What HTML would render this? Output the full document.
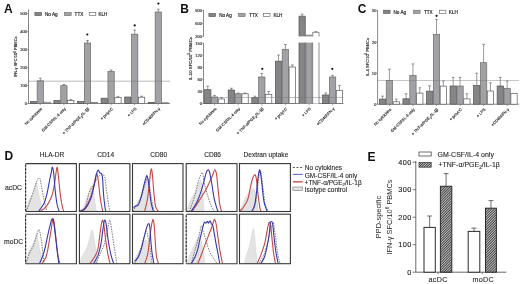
<!DOCTYPE html>
<html><head><meta charset="utf-8"><style>
html,body{margin:0;padding:0;background:#fff;}
body{width:520px;height:284px;overflow:hidden;}
svg{display:block;font-family:"Liberation Sans", sans-serif;will-change:transform;}
</style></head><body>
<svg width="520" height="284" viewBox="0 0 520 284">
<rect width="520" height="284" fill="#fff"/>
<text x="4" y="12.7" font-size="12" text-anchor="start" fill="#111" font-weight="bold" >A</text>
<line x1="28.5" y1="9.5" x2="28.5" y2="103.5" stroke="#6a6a6a" stroke-width="0.8" />
<line x1="28.5" y1="103.5" x2="170" y2="103.5" stroke="#6a6a6a" stroke-width="0.8" />
<line x1="27.1" y1="13.5" x2="28.5" y2="13.5" stroke="#6a6a6a" stroke-width="0.6" />
<text x="27.2" y="15" font-size="4.2" text-anchor="end" fill="#444" font-weight="normal"  stroke="#444" stroke-width="0.18">500</text>
<line x1="27.1" y1="31.5" x2="28.5" y2="31.5" stroke="#6a6a6a" stroke-width="0.6" />
<text x="27.2" y="33" font-size="4.2" text-anchor="end" fill="#444" font-weight="normal"  stroke="#444" stroke-width="0.18">400</text>
<line x1="27.1" y1="49.5" x2="28.5" y2="49.5" stroke="#6a6a6a" stroke-width="0.6" />
<text x="27.2" y="51" font-size="4.2" text-anchor="end" fill="#444" font-weight="normal"  stroke="#444" stroke-width="0.18">300</text>
<line x1="27.1" y1="67.5" x2="28.5" y2="67.5" stroke="#6a6a6a" stroke-width="0.6" />
<text x="27.2" y="69" font-size="4.2" text-anchor="end" fill="#444" font-weight="normal"  stroke="#444" stroke-width="0.18">200</text>
<line x1="27.1" y1="85.5" x2="28.5" y2="85.5" stroke="#6a6a6a" stroke-width="0.6" />
<text x="27.2" y="87" font-size="4.2" text-anchor="end" fill="#444" font-weight="normal"  stroke="#444" stroke-width="0.18">100</text>
<line x1="27.1" y1="103.5" x2="28.5" y2="103.5" stroke="#6a6a6a" stroke-width="0.6" />
<text x="27.2" y="105" font-size="4.2" text-anchor="end" fill="#444" font-weight="normal"  stroke="#444" stroke-width="0.18">0</text>
<line x1="40.3" y1="103.5" x2="40.3" y2="105.3" stroke="#6a6a6a" stroke-width="0.6" />
<line x1="63.9" y1="103.5" x2="63.9" y2="105.3" stroke="#6a6a6a" stroke-width="0.6" />
<line x1="87.5" y1="103.5" x2="87.5" y2="105.3" stroke="#6a6a6a" stroke-width="0.6" />
<line x1="111.1" y1="103.5" x2="111.1" y2="105.3" stroke="#6a6a6a" stroke-width="0.6" />
<line x1="134.7" y1="103.5" x2="134.7" y2="105.3" stroke="#6a6a6a" stroke-width="0.6" />
<line x1="158.3" y1="103.5" x2="158.3" y2="105.3" stroke="#6a6a6a" stroke-width="0.6" />
<rect x="30.3" y="101.6" width="6.3" height="1.9" fill="#858587" stroke="#505050" stroke-width="0.7" />
<rect x="37.15" y="80.8" width="6.3" height="22.7" fill="#a2a2a6" stroke="#6a6a6a" stroke-width="0.7" />
<line x1="40.3" y1="80.8" x2="40.3" y2="78.2" stroke="#555" stroke-width="0.6" />
<line x1="38.9" y1="78.2" x2="41.7" y2="78.2" stroke="#555" stroke-width="0.6" />
<rect x="44" y="102.2" width="6.3" height="1.3" fill="#ffffff" stroke="#5a5a5a" stroke-width="0.7" />
<rect x="53.9" y="100.6" width="6.3" height="2.9" fill="#858587" stroke="#505050" stroke-width="0.7" />
<rect x="60.75" y="85.7" width="6.3" height="17.8" fill="#a2a2a6" stroke="#6a6a6a" stroke-width="0.7" />
<line x1="63.9" y1="85.7" x2="63.9" y2="84.5" stroke="#555" stroke-width="0.6" />
<line x1="62.5" y1="84.5" x2="65.3" y2="84.5" stroke="#555" stroke-width="0.6" />
<rect x="67.6" y="100.6" width="6.3" height="2.9" fill="#ffffff" stroke="#5a5a5a" stroke-width="0.7" />
<line x1="70.75" y1="100.6" x2="70.75" y2="99.6" stroke="#555" stroke-width="0.6" />
<line x1="69.35" y1="99.6" x2="72.15" y2="99.6" stroke="#555" stroke-width="0.6" />
<rect x="77.5" y="101.6" width="6.3" height="1.9" fill="#858587" stroke="#505050" stroke-width="0.7" />
<rect x="84.35" y="43" width="6.3" height="60.5" fill="#a2a2a6" stroke="#6a6a6a" stroke-width="0.7" />
<line x1="87.5" y1="43" x2="87.5" y2="40.5" stroke="#555" stroke-width="0.6" />
<line x1="86.1" y1="40.5" x2="88.9" y2="40.5" stroke="#555" stroke-width="0.6" />
<rect x="91.2" y="102.6" width="6.3" height="0.9" fill="#ffffff" stroke="#5a5a5a" stroke-width="0.7" />
<rect x="101.1" y="98.2" width="6.3" height="5.3" fill="#858587" stroke="#505050" stroke-width="0.7" />
<rect x="107.95" y="71.5" width="6.3" height="32" fill="#a2a2a6" stroke="#6a6a6a" stroke-width="0.7" />
<line x1="111.1" y1="71.5" x2="111.1" y2="70" stroke="#555" stroke-width="0.6" />
<line x1="109.7" y1="70" x2="112.5" y2="70" stroke="#555" stroke-width="0.6" />
<rect x="114.8" y="97.4" width="6.3" height="6.1" fill="#ffffff" stroke="#5a5a5a" stroke-width="0.7" />
<line x1="117.95" y1="97.4" x2="117.95" y2="96.4" stroke="#555" stroke-width="0.6" />
<line x1="116.55" y1="96.4" x2="119.35" y2="96.4" stroke="#555" stroke-width="0.6" />
<rect x="124.7" y="97" width="6.3" height="6.5" fill="#858587" stroke="#505050" stroke-width="0.7" />
<rect x="131.55" y="34.2" width="6.3" height="69.3" fill="#a2a2a6" stroke="#6a6a6a" stroke-width="0.7" />
<line x1="134.7" y1="34.2" x2="134.7" y2="30" stroke="#555" stroke-width="0.6" />
<line x1="133.3" y1="30" x2="136.1" y2="30" stroke="#555" stroke-width="0.6" />
<rect x="138.4" y="97.2" width="6.3" height="6.3" fill="#ffffff" stroke="#5a5a5a" stroke-width="0.7" />
<line x1="141.55" y1="97.2" x2="141.55" y2="96.2" stroke="#555" stroke-width="0.6" />
<line x1="140.15" y1="96.2" x2="142.95" y2="96.2" stroke="#555" stroke-width="0.6" />
<rect x="148.3" y="102.4" width="6.3" height="1.1" fill="#858587" stroke="#505050" stroke-width="0.7" />
<rect x="155.15" y="12" width="6.3" height="91.5" fill="#a2a2a6" stroke="#6a6a6a" stroke-width="0.7" />
<line x1="158.3" y1="12" x2="158.3" y2="9.2" stroke="#555" stroke-width="0.6" />
<line x1="156.9" y1="9.2" x2="159.7" y2="9.2" stroke="#555" stroke-width="0.6" />
<rect x="162" y="102.8" width="6.3" height="0.7" fill="#ffffff" stroke="#5a5a5a" stroke-width="0.7" />
<line x1="28.5" y1="81.2" x2="170" y2="81.2" stroke="#777" stroke-width="0.6" opacity="0.85"/>
<rect x="34.9" y="12.4" width="6.6" height="3.2" fill="#858587" stroke="#505050" stroke-width="0.6" />
<text x="45" y="15.7" font-size="4.6" text-anchor="start" fill="#2a2a2a" font-weight="normal"  stroke="#2a2a2a" stroke-width="0.18">No Ag</text>
<rect x="64.6" y="12.4" width="6.6" height="3.2" fill="#a2a2a6" stroke="#6a6a6a" stroke-width="0.6" />
<text x="74.6" y="15.7" font-size="4.6" text-anchor="start" fill="#2a2a2a" font-weight="normal"  stroke="#2a2a2a" stroke-width="0.18">TTX</text>
<rect x="89.2" y="12.4" width="6.6" height="3.2" fill="#ffffff" stroke="#5a5a5a" stroke-width="0.6" />
<text x="98.5" y="15.7" font-size="4.6" text-anchor="start" fill="#2a2a2a" font-weight="normal"  stroke="#2a2a2a" stroke-width="0.18">KLH</text>
<circle cx="87.3" cy="34.5" r="1.1" fill="#111"/>
<circle cx="134.7" cy="25.4" r="1.1" fill="#111"/>
<circle cx="158.4" cy="3.6" r="1.1" fill="#111"/>
<text transform="translate(17.4,56.8) rotate(-90)" font-size="4.0" text-anchor="middle" fill="#2a2a2a" stroke="#2a2a2a" stroke-width="0.15">IFN-&#947; SFC/10<tspan font-size="3" dy="-1.5">5</tspan><tspan dy="1.5"> PBMCs</tspan></text>
<text transform="translate(42.5,109.1) rotate(-45)" font-size="4.0" text-anchor="end" fill="#2a2a2a" stroke="#2a2a2a" stroke-width="0.15">No cytokines</text>
<text transform="translate(66.1,109.1) rotate(-45)" font-size="4.0" text-anchor="end" fill="#2a2a2a" stroke="#2a2a2a" stroke-width="0.15">GM-CSF/IL-4 only</text>
<text transform="translate(89.7,109.1) rotate(-45)" font-size="4.0" text-anchor="end" fill="#2a2a2a" stroke="#2a2a2a" stroke-width="0.15">+ TNF-&#945;/PGE<tspan font-size="3" dy="1">2</tspan><tspan dy="-1">/IL-1&#946;</tspan></text>
<text transform="translate(113.3,109.1) rotate(-45)" font-size="4.0" text-anchor="end" fill="#2a2a2a" stroke="#2a2a2a" stroke-width="0.15">+ polyI:C</text>
<text transform="translate(136.9,109.1) rotate(-45)" font-size="4.0" text-anchor="end" fill="#2a2a2a" stroke="#2a2a2a" stroke-width="0.15">+ LPS</text>
<text transform="translate(160.5,109.1) rotate(-45)" font-size="4.0" text-anchor="end" fill="#2a2a2a" stroke="#2a2a2a" stroke-width="0.15">+CD40/IFN-&#947;</text>
<text x="180.3" y="12.7" font-size="12" text-anchor="start" fill="#111" font-weight="bold" >B</text>
<line x1="203.5" y1="10" x2="203.5" y2="36.6" stroke="#6a6a6a" stroke-width="0.8" />
<line x1="203.5" y1="43" x2="203.5" y2="103.5" stroke="#6a6a6a" stroke-width="0.8" />
<line x1="203.5" y1="103.5" x2="343.5" y2="103.5" stroke="#6a6a6a" stroke-width="0.8" />
<line x1="202.1" y1="10.5" x2="203.5" y2="10.5" stroke="#6a6a6a" stroke-width="0.6" />
<text x="202.2" y="12" font-size="4.2" text-anchor="end" fill="#444" font-weight="normal"  stroke="#444" stroke-width="0.18">900</text>
<line x1="202.1" y1="23.5" x2="203.5" y2="23.5" stroke="#6a6a6a" stroke-width="0.6" />
<text x="202.2" y="25" font-size="4.2" text-anchor="end" fill="#444" font-weight="normal"  stroke="#444" stroke-width="0.18">600</text>
<line x1="202.1" y1="36.5" x2="203.5" y2="36.5" stroke="#6a6a6a" stroke-width="0.6" />
<text x="202.2" y="38" font-size="4.2" text-anchor="end" fill="#444" font-weight="normal"  stroke="#444" stroke-width="0.18">300</text>
<line x1="202.1" y1="43" x2="203.5" y2="43" stroke="#6a6a6a" stroke-width="0.6" />
<text x="202.2" y="44.5" font-size="4.2" text-anchor="end" fill="#444" font-weight="normal"  stroke="#444" stroke-width="0.18">150</text>
<line x1="202.1" y1="55.1" x2="203.5" y2="55.1" stroke="#6a6a6a" stroke-width="0.6" />
<text x="202.2" y="56.6" font-size="4.2" text-anchor="end" fill="#444" font-weight="normal"  stroke="#444" stroke-width="0.18">120</text>
<line x1="202.1" y1="67.2" x2="203.5" y2="67.2" stroke="#6a6a6a" stroke-width="0.6" />
<text x="202.2" y="68.7" font-size="4.2" text-anchor="end" fill="#444" font-weight="normal"  stroke="#444" stroke-width="0.18">90</text>
<line x1="202.1" y1="79.3" x2="203.5" y2="79.3" stroke="#6a6a6a" stroke-width="0.6" />
<text x="202.2" y="80.8" font-size="4.2" text-anchor="end" fill="#444" font-weight="normal"  stroke="#444" stroke-width="0.18">60</text>
<line x1="202.1" y1="91.4" x2="203.5" y2="91.4" stroke="#6a6a6a" stroke-width="0.6" />
<text x="202.2" y="92.9" font-size="4.2" text-anchor="end" fill="#444" font-weight="normal"  stroke="#444" stroke-width="0.18">30</text>
<line x1="202.1" y1="103.5" x2="203.5" y2="103.5" stroke="#6a6a6a" stroke-width="0.6" />
<text x="202.2" y="105" font-size="4.2" text-anchor="end" fill="#444" font-weight="normal"  stroke="#444" stroke-width="0.18">0</text>
<line x1="214.6" y1="103.5" x2="214.6" y2="105.3" stroke="#6a6a6a" stroke-width="0.6" />
<line x1="238.2" y1="103.5" x2="238.2" y2="105.3" stroke="#6a6a6a" stroke-width="0.6" />
<line x1="261.8" y1="103.5" x2="261.8" y2="105.3" stroke="#6a6a6a" stroke-width="0.6" />
<line x1="285.4" y1="103.5" x2="285.4" y2="105.3" stroke="#6a6a6a" stroke-width="0.6" />
<line x1="309" y1="103.5" x2="309" y2="105.3" stroke="#6a6a6a" stroke-width="0.6" />
<line x1="332.6" y1="103.5" x2="332.6" y2="105.3" stroke="#6a6a6a" stroke-width="0.6" />
<rect x="204.6" y="89.7" width="6.3" height="13.8" fill="#858587" stroke="#505050" stroke-width="0.7" />
<line x1="207.75" y1="89.7" x2="207.75" y2="86.2" stroke="#555" stroke-width="0.6" />
<line x1="206.35" y1="86.2" x2="209.15" y2="86.2" stroke="#555" stroke-width="0.6" />
<rect x="211.45" y="97" width="6.3" height="6.5" fill="#a2a2a6" stroke="#6a6a6a" stroke-width="0.7" />
<line x1="214.6" y1="97" x2="214.6" y2="95.4" stroke="#555" stroke-width="0.6" />
<line x1="213.2" y1="95.4" x2="216" y2="95.4" stroke="#555" stroke-width="0.6" />
<rect x="218.3" y="99" width="6.3" height="4.5" fill="#ffffff" stroke="#5a5a5a" stroke-width="0.7" />
<line x1="221.45" y1="99" x2="221.45" y2="97.6" stroke="#555" stroke-width="0.6" />
<line x1="220.05" y1="97.6" x2="222.85" y2="97.6" stroke="#555" stroke-width="0.6" />
<rect x="228.2" y="90" width="6.3" height="13.5" fill="#858587" stroke="#505050" stroke-width="0.7" />
<line x1="231.35" y1="90" x2="231.35" y2="88.2" stroke="#555" stroke-width="0.6" />
<line x1="229.95" y1="88.2" x2="232.75" y2="88.2" stroke="#555" stroke-width="0.6" />
<rect x="235.05" y="93.8" width="6.3" height="9.7" fill="#a2a2a6" stroke="#6a6a6a" stroke-width="0.7" />
<line x1="238.2" y1="93.8" x2="238.2" y2="93" stroke="#555" stroke-width="0.6" />
<line x1="236.8" y1="93" x2="239.6" y2="93" stroke="#555" stroke-width="0.6" />
<rect x="241.9" y="93.8" width="6.3" height="9.7" fill="#ffffff" stroke="#5a5a5a" stroke-width="0.7" />
<line x1="245.05" y1="93.8" x2="245.05" y2="93" stroke="#555" stroke-width="0.6" />
<line x1="243.65" y1="93" x2="246.45" y2="93" stroke="#555" stroke-width="0.6" />
<rect x="251.8" y="97.7" width="6.3" height="5.8" fill="#858587" stroke="#505050" stroke-width="0.7" />
<line x1="254.95" y1="97.7" x2="254.95" y2="96.2" stroke="#555" stroke-width="0.6" />
<line x1="253.55" y1="96.2" x2="256.35" y2="96.2" stroke="#555" stroke-width="0.6" />
<rect x="258.65" y="77" width="6.3" height="26.5" fill="#a2a2a6" stroke="#6a6a6a" stroke-width="0.7" />
<line x1="261.8" y1="77" x2="261.8" y2="73.4" stroke="#555" stroke-width="0.6" />
<line x1="260.4" y1="73.4" x2="263.2" y2="73.4" stroke="#555" stroke-width="0.6" />
<rect x="265.5" y="94.3" width="6.3" height="9.2" fill="#ffffff" stroke="#5a5a5a" stroke-width="0.7" />
<line x1="268.65" y1="94.3" x2="268.65" y2="91.5" stroke="#555" stroke-width="0.6" />
<line x1="267.25" y1="91.5" x2="270.05" y2="91.5" stroke="#555" stroke-width="0.6" />
<rect x="275.4" y="61.2" width="6.3" height="42.3" fill="#858587" stroke="#505050" stroke-width="0.7" />
<line x1="278.55" y1="61.2" x2="278.55" y2="55" stroke="#555" stroke-width="0.6" />
<line x1="277.15" y1="55" x2="279.95" y2="55" stroke="#555" stroke-width="0.6" />
<rect x="282.25" y="49.3" width="6.3" height="54.2" fill="#a2a2a6" stroke="#6a6a6a" stroke-width="0.7" />
<line x1="285.4" y1="49.3" x2="285.4" y2="44.5" stroke="#555" stroke-width="0.6" />
<line x1="284" y1="44.5" x2="286.8" y2="44.5" stroke="#555" stroke-width="0.6" />
<rect x="289.1" y="67" width="6.3" height="36.5" fill="#ffffff" stroke="#5a5a5a" stroke-width="0.7" />
<line x1="292.25" y1="67" x2="292.25" y2="65" stroke="#555" stroke-width="0.6" />
<line x1="290.85" y1="65" x2="293.65" y2="65" stroke="#555" stroke-width="0.6" />
<rect x="322.6" y="95" width="6.3" height="8.5" fill="#858587" stroke="#505050" stroke-width="0.7" />
<line x1="325.75" y1="95" x2="325.75" y2="93" stroke="#555" stroke-width="0.6" />
<line x1="324.35" y1="93" x2="327.15" y2="93" stroke="#555" stroke-width="0.6" />
<rect x="329.45" y="77" width="6.3" height="26.5" fill="#a2a2a6" stroke="#6a6a6a" stroke-width="0.7" />
<line x1="332.6" y1="77" x2="332.6" y2="75.4" stroke="#555" stroke-width="0.6" />
<line x1="331.2" y1="75.4" x2="334" y2="75.4" stroke="#555" stroke-width="0.6" />
<rect x="336.3" y="90.3" width="6.3" height="13.2" fill="#ffffff" stroke="#5a5a5a" stroke-width="0.7" />
<line x1="339.45" y1="90.3" x2="339.45" y2="85.4" stroke="#555" stroke-width="0.6" />
<line x1="338.05" y1="85.4" x2="340.85" y2="85.4" stroke="#555" stroke-width="0.6" />
<line x1="203.5" y1="97.4" x2="343.5" y2="97.4" stroke="#777" stroke-width="0.6" opacity="0.85"/>
<rect x="208.9" y="13.4" width="6.6" height="3.2" fill="#858587" stroke="#505050" stroke-width="0.6" />
<text x="219.2" y="16.7" font-size="4.6" text-anchor="start" fill="#2a2a2a" font-weight="normal"  stroke="#2a2a2a" stroke-width="0.18">No Ag</text>
<rect x="238.5" y="13.4" width="6.6" height="3.2" fill="#a2a2a6" stroke="#6a6a6a" stroke-width="0.6" />
<text x="249.2" y="16.7" font-size="4.6" text-anchor="start" fill="#2a2a2a" font-weight="normal"  stroke="#2a2a2a" stroke-width="0.18">TTX</text>
<rect x="263.4" y="13.4" width="6.6" height="3.2" fill="#ffffff" stroke="#5a5a5a" stroke-width="0.6" />
<text x="273.5" y="16.7" font-size="4.6" text-anchor="start" fill="#2a2a2a" font-weight="normal"  stroke="#2a2a2a" stroke-width="0.18">KLH</text>
<circle cx="262.3" cy="68.8" r="1.1" fill="#111"/>
<circle cx="332.3" cy="68.8" r="1.1" fill="#111"/>
<text transform="translate(191.9,58.6) rotate(-90)" font-size="4.0" text-anchor="middle" fill="#2a2a2a" stroke="#2a2a2a" stroke-width="0.15"><tspan font-size="4.3">IL-10 SFC/10</tspan><tspan font-size="3.2" dy="-1.5">5</tspan><tspan font-size="4.3" dy="1.5"> PBMCs</tspan></text>
<text transform="translate(216.8,109.1) rotate(-45)" font-size="4.0" text-anchor="end" fill="#2a2a2a" stroke="#2a2a2a" stroke-width="0.15">No cytokines</text>
<text transform="translate(240.4,109.1) rotate(-45)" font-size="4.0" text-anchor="end" fill="#2a2a2a" stroke="#2a2a2a" stroke-width="0.15">GM-CSF/IL-4 only</text>
<text transform="translate(264,109.1) rotate(-45)" font-size="4.0" text-anchor="end" fill="#2a2a2a" stroke="#2a2a2a" stroke-width="0.15">+ TNF-&#945;/PGE<tspan font-size="3" dy="1">2</tspan><tspan dy="-1">/IL-1&#946;</tspan></text>
<text transform="translate(287.6,109.1) rotate(-45)" font-size="4.0" text-anchor="end" fill="#2a2a2a" stroke="#2a2a2a" stroke-width="0.15">+ polyI:C</text>
<text transform="translate(311.2,109.1) rotate(-45)" font-size="4.0" text-anchor="end" fill="#2a2a2a" stroke="#2a2a2a" stroke-width="0.15">+ LPS</text>
<text transform="translate(334.8,109.1) rotate(-45)" font-size="4.0" text-anchor="end" fill="#2a2a2a" stroke="#2a2a2a" stroke-width="0.15">+CD40/IFN-&#947;</text>
<rect x="299" y="16.2" width="6.3" height="20.2" fill="#858587"/>
<path d="M299,36.4 L299,16.2 L305.3,16.2 L305.3,36.4" fill="none" stroke="#505050" stroke-width="0.7"/>
<line x1="302.15" y1="16.2" x2="302.15" y2="14.2" stroke="#555" stroke-width="0.6" />
<line x1="300.75" y1="14.2" x2="303.55" y2="14.2" stroke="#555" stroke-width="0.6" />
<rect x="305.85" y="35.2" width="6.3" height="1.2" fill="#a2a2a6"/>
<path d="M305.85,36.4 L305.85,35.2 L312.15,35.2 L312.15,36.4" fill="none" stroke="#6a6a6a" stroke-width="0.7"/>
<rect x="312.7" y="32.3" width="6.3" height="4.1" fill="#ffffff"/>
<path d="M312.7,36.4 L312.7,32.3 L319,32.3 L319,36.4" fill="none" stroke="#5a5a5a" stroke-width="0.7"/>
<line x1="315.85" y1="32.3" x2="315.85" y2="31.6" stroke="#555" stroke-width="0.6" />
<line x1="314.45" y1="31.6" x2="317.25" y2="31.6" stroke="#555" stroke-width="0.6" />
<rect x="299" y="42.6" width="6.3" height="60.9" fill="#858587"/>
<path d="M299,42.6 L299,103.5 M305.3,42.6 L305.3,103.5" fill="none" stroke="#505050" stroke-width="0.7"/>
<rect x="305.85" y="42.6" width="6.3" height="60.9" fill="#a2a2a6"/>
<path d="M305.85,42.6 L305.85,103.5 M312.15,42.6 L312.15,103.5" fill="none" stroke="#6a6a6a" stroke-width="0.7"/>
<rect x="312.7" y="42.6" width="6.3" height="60.9" fill="#ffffff"/>
<path d="M312.7,42.6 L312.7,103.5 M319,42.6 L319,103.5" fill="none" stroke="#5a5a5a" stroke-width="0.7"/>
<line x1="298.5" y1="97.4" x2="319.5" y2="97.4" stroke="#777" stroke-width="0.6" opacity="0.85"/>
<text x="357.8" y="12.7" font-size="12" text-anchor="start" fill="#111" font-weight="bold" >C</text>
<line x1="377.6" y1="10" x2="377.6" y2="104.2" stroke="#6a6a6a" stroke-width="0.8" />
<line x1="377.6" y1="104.2" x2="519" y2="104.2" stroke="#6a6a6a" stroke-width="0.8" />
<line x1="376.2" y1="10.9" x2="377.6" y2="10.9" stroke="#6a6a6a" stroke-width="0.6" />
<text x="376.3" y="12.4" font-size="4.2" text-anchor="end" fill="#444" font-weight="normal"  stroke="#444" stroke-width="0.18">30</text>
<line x1="376.2" y1="42" x2="377.6" y2="42" stroke="#6a6a6a" stroke-width="0.6" />
<text x="376.3" y="43.5" font-size="4.2" text-anchor="end" fill="#444" font-weight="normal"  stroke="#444" stroke-width="0.18">20</text>
<line x1="376.2" y1="73.1" x2="377.6" y2="73.1" stroke="#6a6a6a" stroke-width="0.6" />
<text x="376.3" y="74.6" font-size="4.2" text-anchor="end" fill="#444" font-weight="normal"  stroke="#444" stroke-width="0.18">10</text>
<line x1="376.2" y1="104.2" x2="377.6" y2="104.2" stroke="#6a6a6a" stroke-width="0.6" />
<text x="376.3" y="105.7" font-size="4.2" text-anchor="end" fill="#444" font-weight="normal"  stroke="#444" stroke-width="0.18">0</text>
<line x1="389.4" y1="104.2" x2="389.4" y2="106" stroke="#6a6a6a" stroke-width="0.6" />
<line x1="412.95" y1="104.2" x2="412.95" y2="106" stroke="#6a6a6a" stroke-width="0.6" />
<line x1="436.5" y1="104.2" x2="436.5" y2="106" stroke="#6a6a6a" stroke-width="0.6" />
<line x1="460.05" y1="104.2" x2="460.05" y2="106" stroke="#6a6a6a" stroke-width="0.6" />
<line x1="483.6" y1="104.2" x2="483.6" y2="106" stroke="#6a6a6a" stroke-width="0.6" />
<line x1="507.15" y1="104.2" x2="507.15" y2="106" stroke="#6a6a6a" stroke-width="0.6" />
<rect x="379.4" y="99.1" width="6.3" height="5.1" fill="#858587" stroke="#505050" stroke-width="0.7" />
<line x1="382.55" y1="99.1" x2="382.55" y2="96.1" stroke="#555" stroke-width="0.6" />
<line x1="381.15" y1="96.1" x2="383.95" y2="96.1" stroke="#555" stroke-width="0.6" />
<rect x="386.25" y="80.6" width="6.3" height="23.6" fill="#a2a2a6" stroke="#6a6a6a" stroke-width="0.7" />
<line x1="389.4" y1="80.6" x2="389.4" y2="69.2" stroke="#555" stroke-width="0.6" />
<line x1="388" y1="69.2" x2="390.8" y2="69.2" stroke="#555" stroke-width="0.6" />
<rect x="393.1" y="101.8" width="6.3" height="2.4" fill="#ffffff" stroke="#5a5a5a" stroke-width="0.7" />
<line x1="396.25" y1="101.8" x2="396.25" y2="99.1" stroke="#555" stroke-width="0.6" />
<line x1="394.85" y1="99.1" x2="397.65" y2="99.1" stroke="#555" stroke-width="0.6" />
<rect x="402.95" y="98.8" width="6.3" height="5.4" fill="#858587" stroke="#505050" stroke-width="0.7" />
<line x1="406.1" y1="98.8" x2="406.1" y2="93.8" stroke="#555" stroke-width="0.6" />
<line x1="404.7" y1="93.8" x2="407.5" y2="93.8" stroke="#555" stroke-width="0.6" />
<rect x="409.8" y="75.5" width="6.3" height="28.7" fill="#a2a2a6" stroke="#6a6a6a" stroke-width="0.7" />
<line x1="412.95" y1="75.5" x2="412.95" y2="63.9" stroke="#555" stroke-width="0.6" />
<line x1="411.55" y1="63.9" x2="414.35" y2="63.9" stroke="#555" stroke-width="0.6" />
<rect x="416.65" y="93.1" width="6.3" height="11.1" fill="#ffffff" stroke="#5a5a5a" stroke-width="0.7" />
<line x1="419.8" y1="93.1" x2="419.8" y2="87.8" stroke="#555" stroke-width="0.6" />
<line x1="418.4" y1="87.8" x2="421.2" y2="87.8" stroke="#555" stroke-width="0.6" />
<rect x="426.5" y="91.2" width="6.3" height="13" fill="#858587" stroke="#505050" stroke-width="0.7" />
<line x1="429.65" y1="91.2" x2="429.65" y2="85.8" stroke="#555" stroke-width="0.6" />
<line x1="428.25" y1="85.8" x2="431.05" y2="85.8" stroke="#555" stroke-width="0.6" />
<rect x="433.35" y="34.3" width="6.3" height="69.9" fill="#a2a2a6" stroke="#6a6a6a" stroke-width="0.7" />
<line x1="436.5" y1="34.3" x2="436.5" y2="19.4" stroke="#555" stroke-width="0.6" />
<line x1="435.1" y1="19.4" x2="437.9" y2="19.4" stroke="#555" stroke-width="0.6" />
<rect x="440.2" y="86.1" width="6.3" height="18.1" fill="#ffffff" stroke="#5a5a5a" stroke-width="0.7" />
<line x1="443.35" y1="86.1" x2="443.35" y2="81" stroke="#555" stroke-width="0.6" />
<line x1="441.95" y1="81" x2="444.75" y2="81" stroke="#555" stroke-width="0.6" />
<rect x="450.05" y="86" width="6.3" height="18.2" fill="#858587" stroke="#505050" stroke-width="0.7" />
<line x1="453.2" y1="86" x2="453.2" y2="77.4" stroke="#555" stroke-width="0.6" />
<line x1="451.8" y1="77.4" x2="454.6" y2="77.4" stroke="#555" stroke-width="0.6" />
<rect x="456.9" y="86" width="6.3" height="18.2" fill="#a2a2a6" stroke="#6a6a6a" stroke-width="0.7" />
<line x1="460.05" y1="86" x2="460.05" y2="77.4" stroke="#555" stroke-width="0.6" />
<line x1="458.65" y1="77.4" x2="461.45" y2="77.4" stroke="#555" stroke-width="0.6" />
<rect x="463.75" y="98.9" width="6.3" height="5.3" fill="#ffffff" stroke="#5a5a5a" stroke-width="0.7" />
<line x1="466.9" y1="98.9" x2="466.9" y2="93.8" stroke="#555" stroke-width="0.6" />
<line x1="465.5" y1="93.8" x2="468.3" y2="93.8" stroke="#555" stroke-width="0.6" />
<rect x="473.6" y="85.6" width="6.3" height="18.6" fill="#858587" stroke="#505050" stroke-width="0.7" />
<line x1="476.75" y1="85.6" x2="476.75" y2="73.2" stroke="#555" stroke-width="0.6" />
<line x1="475.35" y1="73.2" x2="478.15" y2="73.2" stroke="#555" stroke-width="0.6" />
<rect x="480.45" y="62.7" width="6.3" height="41.5" fill="#a2a2a6" stroke="#6a6a6a" stroke-width="0.7" />
<line x1="483.6" y1="62.7" x2="483.6" y2="44.3" stroke="#555" stroke-width="0.6" />
<line x1="482.2" y1="44.3" x2="485" y2="44.3" stroke="#555" stroke-width="0.6" />
<rect x="487.3" y="91" width="6.3" height="13.2" fill="#ffffff" stroke="#5a5a5a" stroke-width="0.7" />
<line x1="490.45" y1="91" x2="490.45" y2="82.8" stroke="#555" stroke-width="0.6" />
<line x1="489.05" y1="82.8" x2="491.85" y2="82.8" stroke="#555" stroke-width="0.6" />
<rect x="497.15" y="86" width="6.3" height="18.2" fill="#858587" stroke="#505050" stroke-width="0.7" />
<line x1="500.3" y1="86" x2="500.3" y2="77.4" stroke="#555" stroke-width="0.6" />
<line x1="498.9" y1="77.4" x2="501.7" y2="77.4" stroke="#555" stroke-width="0.6" />
<rect x="504" y="88.3" width="6.3" height="15.9" fill="#a2a2a6" stroke="#6a6a6a" stroke-width="0.7" />
<line x1="507.15" y1="88.3" x2="507.15" y2="81" stroke="#555" stroke-width="0.6" />
<line x1="505.75" y1="81" x2="508.55" y2="81" stroke="#555" stroke-width="0.6" />
<rect x="510.85" y="93.4" width="6.3" height="10.8" fill="#ffffff" stroke="#5a5a5a" stroke-width="0.7" />
<line x1="377.6" y1="80.7" x2="519" y2="80.7" stroke="#777" stroke-width="0.6" opacity="0.85"/>
<rect x="383.5" y="10.2" width="6.6" height="3.2" fill="#858587" stroke="#505050" stroke-width="0.6" />
<text x="393.5" y="13.5" font-size="4.6" text-anchor="start" fill="#2a2a2a" font-weight="normal"  stroke="#2a2a2a" stroke-width="0.18">No Ag</text>
<rect x="413.5" y="10.2" width="6.6" height="3.2" fill="#a2a2a6" stroke="#6a6a6a" stroke-width="0.6" />
<text x="424" y="13.5" font-size="4.6" text-anchor="start" fill="#2a2a2a" font-weight="normal"  stroke="#2a2a2a" stroke-width="0.18">TTX</text>
<rect x="439.3" y="10.2" width="6.6" height="3.2" fill="#ffffff" stroke="#5a5a5a" stroke-width="0.6" />
<text x="448.8" y="13.5" font-size="4.6" text-anchor="start" fill="#2a2a2a" font-weight="normal"  stroke="#2a2a2a" stroke-width="0.18">KLH</text>
<circle cx="436.5" cy="15.8" r="1.1" fill="#111"/>
<text transform="translate(368.6,57) rotate(-90)" font-size="4.0" text-anchor="middle" fill="#2a2a2a" stroke="#2a2a2a" stroke-width="0.15">IL-4 SFC/10<tspan font-size="3" dy="-1.5">5</tspan><tspan dy="1.5"> PBMCs</tspan></text>
<text transform="translate(391.6,109.8) rotate(-45)" font-size="4.0" text-anchor="end" fill="#2a2a2a" stroke="#2a2a2a" stroke-width="0.15">No cytokines</text>
<text transform="translate(415.15,109.8) rotate(-45)" font-size="4.0" text-anchor="end" fill="#2a2a2a" stroke="#2a2a2a" stroke-width="0.15">GM-CSF/IL-4 only</text>
<text transform="translate(438.7,109.8) rotate(-45)" font-size="4.0" text-anchor="end" fill="#2a2a2a" stroke="#2a2a2a" stroke-width="0.15">+ TNF-&#945;/PGE<tspan font-size="3" dy="1">2</tspan><tspan dy="-1">/IL-1&#946;</tspan></text>
<text transform="translate(462.25,109.8) rotate(-45)" font-size="4.0" text-anchor="end" fill="#2a2a2a" stroke="#2a2a2a" stroke-width="0.15">+ polyI:C</text>
<text transform="translate(485.8,109.8) rotate(-45)" font-size="4.0" text-anchor="end" fill="#2a2a2a" stroke="#2a2a2a" stroke-width="0.15">+ LPS</text>
<text transform="translate(509.35,109.8) rotate(-45)" font-size="4.0" text-anchor="end" fill="#2a2a2a" stroke="#2a2a2a" stroke-width="0.15">+CD40/IFN-&#947;</text>
<text x="4.4" y="160.1" font-size="12" text-anchor="start" fill="#111" font-weight="bold" >D</text>
<text x="52" y="156.6" font-size="6.6" text-anchor="middle" fill="#2a2a2a" font-weight="normal"  stroke="#2a2a2a" stroke-width="0.12">HLA-DR</text>
<text x="105.65" y="156.6" font-size="6.6" text-anchor="middle" fill="#2a2a2a" font-weight="normal"  stroke="#2a2a2a" stroke-width="0.12">CD14</text>
<text x="158.75" y="156.6" font-size="6.6" text-anchor="middle" fill="#2a2a2a" font-weight="normal"  stroke="#2a2a2a" stroke-width="0.12">CD80</text>
<text x="212.6" y="156.6" font-size="6.6" text-anchor="middle" fill="#2a2a2a" font-weight="normal"  stroke="#2a2a2a" stroke-width="0.12">CD86</text>
<text x="265.95" y="156.6" font-size="6.6" text-anchor="middle" fill="#2a2a2a" font-weight="normal"  stroke="#2a2a2a" stroke-width="0.12">Dextran uptake</text>
<text x="5" y="189.8" font-size="6.8" text-anchor="start" fill="#2a2a2a" font-weight="normal"  stroke="#2a2a2a" stroke-width="0.12">acDC</text>
<text x="4" y="243.6" font-size="6.8" text-anchor="start" fill="#2a2a2a" font-weight="normal"  stroke="#2a2a2a" stroke-width="0.12">moDC</text>
<clipPath id="clip00"><rect x="25.6" y="163.6" width="50.8" height="47.9"/></clipPath>
<g clip-path="url(#clip00)">
<path d="M26,211.3 C26.58,209.18 28.3,201.63 29.5,198.6 C30.7,195.57 32.13,195.53 33.2,193.1 C34.27,190.67 35.3,185.68 35.9,184 C36.5,182.32 36.35,181.5 36.8,183 C37.25,184.5 37.83,189.17 38.6,193 C39.37,196.83 40.75,202.95 41.4,206 C42.05,209.05 42.32,210.42 42.5,211.3 Z" fill="#e3e3e3" stroke="#cdcdcd" stroke-width="0.4"/>
<path d="M26,211.3 C26.58,209.95 28.17,206.83 29.5,203.2 C30.83,199.57 32.72,193.32 34,189.5 C35.28,185.68 36.27,182.2 37.2,180.3 C38.13,178.4 38.9,177.18 39.6,178.1 C40.3,179.02 40.7,182.38 41.4,185.8 C42.1,189.22 42.88,194.35 43.8,198.6 C44.72,202.85 46.38,209.18 46.9,211.3" fill="none" stroke="#6a6a6a" stroke-width="0.9" stroke-dasharray="1.5,1.1"/>
<path d="M40,211.3 C41,210.57 44.08,209.32 46,206.9 C47.92,204.48 50.13,200.32 51.5,196.8 C52.87,193.28 53.45,189.77 54.2,185.8 C54.95,181.83 55.48,176.05 56,173 C56.52,169.95 56.83,166.28 57.3,167.5 C57.77,168.72 58.25,175.42 58.8,180.3 C59.35,185.18 59.93,192.07 60.6,196.8 C61.27,201.53 62.23,206.28 62.8,208.7 C63.37,211.12 63.8,210.87 64,211.3" fill="none" stroke="#c84646" stroke-width="1.1"/>
<path d="M38.6,211.3 C39.52,209.95 42.72,206.08 44.1,203.2 C45.48,200.32 45.98,197.82 46.9,194 C47.82,190.18 48.83,184.1 49.6,180.3 C50.37,176.5 51.03,173.4 51.5,171.2 C51.97,169 52.03,166.8 52.4,167.1 C52.77,167.4 53.25,169.27 53.7,173 C54.15,176.73 54.55,184.33 55.1,189.5 C55.65,194.67 56.32,200.37 57,204 C57.68,207.63 58.83,210.08 59.2,211.3" fill="none" stroke="#3636b0" stroke-width="1.1"/>
</g>
<path d="M25.6,163.6 L76.4,163.6 L76.4,211.5 L25.6,211.5" fill="none" stroke="#383838" stroke-width="1.1"/>
<line x1="25.6" y1="163.6" x2="25.6" y2="211.5" stroke="#9a9a9a" stroke-width="1.1" />
<line x1="25.6" y1="164.6" x2="25.6" y2="211.5" stroke="#2a2a2a" stroke-width="1.1" stroke-dasharray="2.1,1.6"/>
<clipPath id="clip01"><rect x="79.4" y="163.6" width="50.5" height="47.9"/></clipPath>
<g clip-path="url(#clip01)">
<path d="M80,211.3 C80.67,210.42 82.65,208.72 84,206 C85.35,203.28 86.82,198.37 88.1,195 C89.38,191.63 90.63,185.2 91.7,185.8 C92.77,186.4 93.73,194.35 94.5,198.6 C95.27,202.85 96,209.18 96.3,211.3 Z" fill="#e3e3e3" stroke="#cdcdcd" stroke-width="0.4"/>
<path d="M82,211.3 C82.67,210.25 84.83,208.03 86,205 C87.17,201.97 87.67,196.6 89,193.1 C90.33,189.6 92.5,186.68 94,184 C95.5,181.32 96.7,178.53 98,177 C99.3,175.47 100.7,174.85 101.8,174.8 C102.9,174.75 103.83,174.25 104.6,176.7 C105.37,179.15 105.65,184.32 106.4,189.5 C107.15,194.68 108.5,204.17 109.1,207.8 C109.7,211.43 109.85,210.72 110,211.3" fill="none" stroke="#6a6a6a" stroke-width="0.9" stroke-dasharray="1.5,1.1"/>
<path d="M80,211.3 C80.88,210.72 83.5,210.22 85.3,207.8 C87.1,205.38 89.27,201.08 90.8,196.8 C92.33,192.52 93.52,186 94.5,182.1 C95.48,178.2 96.03,173.4 96.7,173.4 C97.37,173.4 97.9,177.9 98.5,182.1 C99.1,186.3 99.6,193.73 100.3,198.6 C101,203.47 102.3,209.18 102.7,211.3" fill="none" stroke="#c84646" stroke-width="1.1"/>
<path d="M80,211.3 C80.88,210.87 83.5,210.82 85.3,208.7 C87.1,206.58 89.27,202.72 90.8,198.6 C92.33,194.48 93.58,187.97 94.5,184 C95.42,180.03 95.7,177.1 96.3,174.8 C96.9,172.5 97.48,170.5 98.1,170.2 C98.72,169.9 99.38,172.38 100,173 C100.62,173.62 101.35,172.68 101.8,173.9 C102.25,175.12 102.4,176.78 102.7,180.3 C103,183.82 103.2,190.42 103.6,195 C104,199.58 104.7,205.08 105.1,207.8 C105.5,210.52 105.85,210.72 106,211.3" fill="none" stroke="#3636b0" stroke-width="1.1"/>
</g>
<rect x="79.4" y="163.6" width="50.5" height="47.9" fill="none" stroke="#383838" stroke-width="1.1" />
<clipPath id="clip02"><rect x="132.5" y="163.6" width="50.5" height="47.9"/></clipPath>
<g clip-path="url(#clip02)">
<path d="M133,211.3 C133.5,210.08 134.83,206.22 136,204 C137.17,201.78 138.75,200.67 140,198 C141.25,195.33 142.4,190.95 143.5,188 C144.6,185.05 145.68,179.97 146.6,180.3 C147.52,180.63 148.1,184.83 149,190 C149.9,195.17 151.5,207.75 152,211.3 Z" fill="#e3e3e3" stroke="#cdcdcd" stroke-width="0.4"/>
<path d="M133,211.3 C133.5,210.42 135,207.38 136,206 C137,204.62 138,204.83 139,203 C140,201.17 141,198.17 142,195 C143,191.83 144.07,186.92 145,184 C145.93,181.08 146.88,177.5 147.6,177.5 C148.32,177.5 148.73,180.92 149.3,184 C149.87,187.08 150.38,192.17 151,196 C151.62,199.83 152.42,204.45 153,207 C153.58,209.55 154.25,210.58 154.5,211.3" fill="none" stroke="#6a6a6a" stroke-width="0.9" stroke-dasharray="1.5,1.1"/>
<path d="M144.7,211.3 C145.17,209.18 146.73,203.15 147.5,198.6 C148.27,194.05 148.78,188.42 149.3,184 C149.82,179.58 150.23,174.6 150.6,172.1 C150.97,169.6 151.17,168.23 151.5,169 C151.83,169.77 152.2,172.68 152.6,176.7 C153,180.72 153.38,188.07 153.9,193.1 C154.42,198.13 154.93,203.87 155.7,206.9 C156.47,209.93 158.03,210.57 158.5,211.3" fill="none" stroke="#c84646" stroke-width="1.1"/>
<path d="M133.5,207.8 C133.85,207.5 134.8,206.47 135.6,206 C136.4,205.53 137.38,206.53 138.3,205 C139.22,203.47 140.33,199.38 141.1,196.8 C141.87,194.22 142.3,191.95 142.9,189.5 C143.5,187.05 144.18,184.08 144.7,182.1 C145.22,180.12 145.6,178.67 146,177.6 C146.4,176.53 146.7,174.95 147.1,175.7 C147.5,176.45 147.97,179.5 148.4,182.1 C148.83,184.7 149.25,187.93 149.7,191.3 C150.15,194.67 150.5,198.97 151.1,202.3 C151.7,205.63 152.93,209.8 153.3,211.3" fill="none" stroke="#3636b0" stroke-width="1.1"/>
</g>
<rect x="132.5" y="163.6" width="50.5" height="47.9" fill="none" stroke="#383838" stroke-width="1.1" />
<clipPath id="clip03"><rect x="186.2" y="163.6" width="50.8" height="47.9"/></clipPath>
<g clip-path="url(#clip03)">
<path d="M186.5,211.3 C187.3,209.18 189.58,202.23 191.3,198.6 C193.02,194.97 195.27,192.55 196.8,189.5 C198.33,186.45 199.58,180.3 200.5,180.3 C201.42,180.3 201.7,184.33 202.3,189.5 C202.9,194.67 203.8,207.67 204.1,211.3 Z" fill="#e3e3e3" stroke="#cdcdcd" stroke-width="0.4"/>
<path d="M189.5,211.3 C190.42,208.58 193.47,200.17 195,195 C196.53,189.83 197.48,184.03 198.7,180.3 C199.92,176.57 201.4,172.3 202.3,172.6 C203.2,172.9 203.33,178.68 204.1,182.1 C204.87,185.52 205.82,189.43 206.9,193.1 C207.98,196.77 209.38,201.07 210.6,204.1 C211.82,207.13 213.6,210.1 214.2,211.3" fill="none" stroke="#6a6a6a" stroke-width="0.9" stroke-dasharray="1.5,1.1"/>
<path d="M192.2,211.3 C193.28,209.65 196.87,204.28 198.7,201.4 C200.53,198.52 201.98,195.98 203.2,194 C204.42,192.02 204.93,191.48 206,189.5 C207.07,187.52 208.53,184.4 209.6,182.1 C210.67,179.8 211.53,177.77 212.4,175.7 C213.27,173.63 214.1,169.85 214.8,169.7 C215.5,169.55 216.08,171.82 216.6,174.8 C217.12,177.78 217.38,182.72 217.9,187.6 C218.42,192.48 219.1,200.15 219.7,204.1 C220.3,208.05 221.2,210.1 221.5,211.3" fill="none" stroke="#c84646" stroke-width="1.1"/>
<path d="M191.3,211.3 C192.22,209.8 195.27,205.33 196.8,202.3 C198.33,199.27 199.43,196.15 200.5,193.1 C201.57,190.05 202.35,187.05 203.2,184 C204.05,180.95 204.9,177.1 205.6,174.8 C206.3,172.5 206.78,170.8 207.4,170.2 C208.02,169.6 208.62,169.22 209.3,171.2 C209.98,173.18 210.68,177.53 211.5,182.1 C212.32,186.67 213.28,194.17 214.2,198.6 C215.12,203.03 216.37,206.58 217,208.7 C217.63,210.82 217.83,210.87 218,211.3" fill="none" stroke="#3636b0" stroke-width="1.1"/>
</g>
<rect x="186.2" y="163.6" width="50.8" height="47.9" fill="none" stroke="#383838" stroke-width="1.1" />
<clipPath id="clip04"><rect x="239.5" y="163.6" width="50.9" height="47.9"/></clipPath>
<g clip-path="url(#clip04)">
<path d="M240,211.3 C241.03,208.88 244.25,200.43 246.2,196.8 C248.15,193.17 250.33,190.72 251.7,189.5 C253.07,188.28 253.5,187.67 254.4,189.5 C255.3,191.33 256.42,196.87 257.1,200.5 C257.78,204.13 258.27,209.5 258.5,211.3 Z" fill="#e3e3e3" stroke="#cdcdcd" stroke-width="0.4"/>
<path d="M252.5,211.3 C252.92,210.25 254.25,207.88 255,205 C255.75,202.12 256.45,197.83 257,194 C257.55,190.17 257.92,185.33 258.3,182 C258.68,178.67 258.97,175.92 259.3,174 C259.63,172.08 259.95,170.33 260.3,170.5 C260.65,170.67 260.95,172.08 261.4,175 C261.85,177.92 262.4,183.33 263,188 C263.6,192.67 264.17,199.12 265,203 C265.83,206.88 267.5,209.92 268,211.3" fill="none" stroke="#6a6a6a" stroke-width="0.9" stroke-dasharray="1.5,1.1"/>
<path d="M240,210 C240.12,210.08 239.98,211.17 240.7,210.5 C241.42,209.83 243.08,207.98 244.3,206 C245.52,204.02 246.93,201.97 248,198.6 C249.07,195.23 249.93,189.15 250.7,185.8 C251.47,182.45 251.92,180.33 252.6,178.5 C253.28,176.67 254.25,175.1 254.8,174.8 C255.35,174.5 255.57,175.48 255.9,176.7 C256.23,177.92 256.43,179.05 256.8,182.1 C257.17,185.15 257.58,190.72 258.1,195 C258.62,199.28 259.42,205.08 259.9,207.8 C260.38,210.52 260.82,210.72 261,211.3" fill="none" stroke="#c84646" stroke-width="1.1"/>
<path d="M251.7,211.3 C252.15,210.42 253.65,208.72 254.4,206 C255.15,203.28 255.68,198.98 256.2,195 C256.72,191.02 257.1,185.62 257.5,182.1 C257.9,178.58 258.23,175.97 258.6,173.9 C258.97,171.83 259.33,169.55 259.7,169.7 C260.07,169.85 260.37,171.82 260.8,174.8 C261.23,177.78 261.75,183.02 262.3,187.6 C262.85,192.18 263.28,198.35 264.1,202.3 C264.92,206.25 266.68,209.8 267.2,211.3" fill="none" stroke="#3636b0" stroke-width="1.1"/>
</g>
<rect x="239.5" y="163.6" width="50.9" height="47.9" fill="none" stroke="#383838" stroke-width="1.1" />
<clipPath id="clip10"><rect x="25.6" y="214.2" width="50.8" height="49.5"/></clipPath>
<g clip-path="url(#clip10)">
<path d="M26,263.5 C26.58,261.18 28.15,253.13 29.5,249.6 C30.85,246.07 33.03,244.73 34.1,242.3 C35.17,239.87 35.38,236.37 35.9,235 C36.42,233.63 36.75,232.58 37.2,234.1 C37.65,235.62 37.9,240.45 38.6,244.1 C39.3,247.75 40.67,252.77 41.4,256 C42.13,259.23 42.73,262.25 43,263.5 Z" fill="#e3e3e3" stroke="#cdcdcd" stroke-width="0.4"/>
<path d="M26,263.5 C26.58,261.8 28.3,256.22 29.5,253.3 C30.7,250.38 31.98,249.05 33.2,246 C34.42,242.95 35.83,237.75 36.8,235 C37.77,232.25 38.33,229.2 39,229.5 C39.67,229.8 40.25,233.75 40.8,236.8 C41.35,239.85 41.75,243.35 42.3,247.8 C42.85,252.25 43.8,260.88 44.1,263.5" fill="none" stroke="#6a6a6a" stroke-width="0.9" stroke-dasharray="1.5,1.1"/>
<path d="M42.3,263.5 C42.67,262.87 43.88,260.78 44.5,259.7 C45.12,258.62 45.45,258.68 46,257 C46.55,255.32 47.03,253.58 47.8,249.6 C48.57,245.62 49.77,238.13 50.6,233.1 C51.43,228.07 52.2,221.07 52.8,219.4 C53.4,217.73 53.67,219.9 54.2,223.1 C54.73,226.3 55.38,233.27 56,238.6 C56.62,243.93 57.28,250.95 57.9,255.1 C58.52,259.25 59.4,262.1 59.7,263.5" fill="none" stroke="#c84646" stroke-width="1.1"/>
<path d="M39.6,263.5 C40.05,262.42 41.38,259.62 42.3,257 C43.22,254.38 44.18,251.47 45.1,247.8 C46.02,244.13 46.95,238.82 47.8,235 C48.65,231.18 49.53,227.5 50.2,224.9 C50.87,222.3 51.28,220.17 51.8,219.4 C52.32,218.63 52.75,218.02 53.3,220.3 C53.85,222.58 54.48,228.22 55.1,233.1 C55.72,237.98 56.38,244.53 57,249.6 C57.62,254.67 58.5,261.18 58.8,263.5" fill="none" stroke="#3636b0" stroke-width="1.1"/>
</g>
<path d="M25.6,214.2 L76.4,214.2 L76.4,263.7 L25.6,263.7" fill="none" stroke="#383838" stroke-width="1.1"/>
<line x1="25.6" y1="214.2" x2="25.6" y2="263.7" stroke="#9a9a9a" stroke-width="1.1" />
<line x1="25.6" y1="215.2" x2="25.6" y2="263.7" stroke="#2a2a2a" stroke-width="1.1" stroke-dasharray="2.1,1.6"/>
<clipPath id="clip11"><rect x="79.4" y="214.2" width="50.5" height="49.5"/></clipPath>
<g clip-path="url(#clip11)">
<path d="M80,263.5 C80.28,262.42 80.67,259.32 81.7,257 C82.73,254.68 84.98,252.35 86.2,249.6 C87.42,246.85 88.17,243.55 89,240.5 C89.83,237.45 90.58,232.98 91.2,231.3 C91.82,229.62 92.22,229.18 92.7,230.4 C93.18,231.62 93.5,235.08 94.1,238.6 C94.7,242.12 95.63,247.35 96.3,251.5 C96.97,255.65 97.8,261.5 98.1,263.5 Z" fill="#e3e3e3" stroke="#cdcdcd" stroke-width="0.4"/>
<path d="M96,263.5 C96.67,261.92 98.67,257.08 100,254 C101.33,250.92 103,248 104,245 C105,242 105.45,238.28 106,236 C106.55,233.72 106.87,233.3 107.3,231.3 C107.73,229.3 108.15,225.83 108.6,224 C109.05,222.17 109.45,219.08 110,220.3 C110.55,221.52 111.28,227.33 111.9,231.3 C112.52,235.27 113.1,240.13 113.7,244.1 C114.3,248.07 114.98,251.87 115.5,255.1 C116.02,258.33 116.58,262.1 116.8,263.5" fill="none" stroke="#6a6a6a" stroke-width="0.9" stroke-dasharray="1.5,1.1"/>
<path d="M89.9,263.5 C90.67,262.42 93.18,259.32 94.5,257 C95.82,254.68 96.95,252.97 97.8,249.6 C98.65,246.23 99,241.07 99.6,236.8 C100.2,232.53 100.88,226.75 101.4,224 C101.92,221.25 102.27,220 102.7,220.3 C103.13,220.6 103.53,222.75 104,225.8 C104.47,228.85 104.88,234.02 105.5,238.6 C106.12,243.18 106.95,249.15 107.7,253.3 C108.45,257.45 109.62,261.8 110,263.5" fill="none" stroke="#c84646" stroke-width="1.1"/>
<path d="M93.6,263.5 C94.35,262.1 96.88,258.33 98.1,255.1 C99.32,251.87 100.13,248.07 100.9,244.1 C101.67,240.13 102.18,234.95 102.7,231.3 C103.22,227.65 103.6,224.03 104,222.2 C104.4,220.37 104.7,219.7 105.1,220.3 C105.5,220.9 105.88,222.43 106.4,225.8 C106.92,229.17 107.43,235.62 108.2,240.5 C108.97,245.38 110.08,251.27 111,255.1 C111.92,258.93 113.25,262.1 113.7,263.5" fill="none" stroke="#3636b0" stroke-width="1.1"/>
</g>
<rect x="79.4" y="214.2" width="50.5" height="49.5" fill="none" stroke="#383838" stroke-width="1.1" />
<clipPath id="clip12"><rect x="132.5" y="214.2" width="50.5" height="49.5"/></clipPath>
<g clip-path="url(#clip12)">
<path d="M133,263.5 C133.67,262.08 135.67,257.58 137,255 C138.33,252.42 139.83,250.17 141,248 C142.17,245.83 143.17,243.33 144,242 C144.83,240.67 145.25,239.33 146,240 C146.75,240.67 147.58,242.08 148.5,246 C149.42,249.92 151,260.58 151.5,263.5 Z" fill="#e3e3e3" stroke="#cdcdcd" stroke-width="0.4"/>
<path d="M134.7,263.5 C135.45,261.8 137.98,256.53 139.2,253.3 C140.42,250.07 141.08,247.15 142,244.1 C142.92,241.05 143.93,237.13 144.7,235 C145.47,232.87 145.98,230.7 146.6,231.3 C147.22,231.9 147.8,235.55 148.4,238.6 C149,241.65 149.58,245.45 150.2,249.6 C150.82,253.75 151.78,261.18 152.1,263.5" fill="none" stroke="#6a6a6a" stroke-width="0.9" stroke-dasharray="1.5,1.1"/>
<path d="M144.7,263.5 C145.17,262.1 146.73,258.63 147.5,255.1 C148.27,251.57 148.7,246.87 149.3,242.3 C149.9,237.73 150.58,231.22 151.1,227.7 C151.62,224.18 152.03,222.48 152.4,221.2 C152.77,219.92 152.97,218.92 153.3,220 C153.63,221.08 154.05,223.68 154.4,227.7 C154.75,231.72 155.03,239.22 155.4,244.1 C155.77,248.98 156.08,253.77 156.6,257 C157.12,260.23 158.18,262.42 158.5,263.5" fill="none" stroke="#c84646" stroke-width="1.1"/>
<path d="M134.7,261.5 C135.3,260.75 137.23,258.98 138.3,257 C139.37,255.02 140.18,252.67 141.1,249.6 C142.02,246.53 142.88,242.25 143.8,238.6 C144.72,234.95 145.77,230.2 146.6,227.7 C147.43,225.2 148.25,223.6 148.8,223.6 C149.35,223.6 149.57,224.88 149.9,227.7 C150.23,230.52 150.43,236.23 150.8,240.5 C151.17,244.77 151.58,249.47 152.1,253.3 C152.62,257.13 153.6,261.8 153.9,263.5" fill="none" stroke="#3636b0" stroke-width="1.1"/>
</g>
<rect x="132.5" y="214.2" width="50.5" height="49.5" fill="none" stroke="#383838" stroke-width="1.1" />
<clipPath id="clip13"><rect x="186.2" y="214.2" width="50.8" height="49.5"/></clipPath>
<g clip-path="url(#clip13)">
<path d="M186.5,263.5 C187.25,261.58 189.58,255.25 191,252 C192.42,248.75 193.58,246.67 195,244 C196.42,241.33 198.33,236 199.5,236 C200.67,236 201.08,239.42 202,244 C202.92,248.58 204.5,260.25 205,263.5 Z" fill="#e3e3e3" stroke="#cdcdcd" stroke-width="0.4"/>
<path d="M191.3,263.5 C191.77,261.8 193.18,256.53 194.1,253.3 C195.02,250.07 195.88,247.47 196.8,244.1 C197.72,240.73 198.83,236.15 199.6,233.1 C200.37,230.05 200.8,226.1 201.4,225.8 C202,225.5 202.43,228.85 203.2,231.3 C203.97,233.75 204.93,237.13 206,240.5 C207.07,243.87 208.38,248.6 209.6,251.5 C210.82,254.4 212.07,255.9 213.3,257.9 C214.53,259.9 216.38,262.57 217,263.5" fill="none" stroke="#6a6a6a" stroke-width="0.9" stroke-dasharray="1.5,1.1"/>
<path d="M197.7,263.5 C198.17,262.42 199.58,259.32 200.5,257 C201.42,254.68 202.28,252.05 203.2,249.6 C204.12,247.15 205.08,244.73 206,242.3 C206.92,239.87 207.78,237.43 208.7,235 C209.62,232.57 210.73,229.83 211.5,227.7 C212.27,225.57 212.78,223.58 213.3,222.2 C213.82,220.82 214.13,219.1 214.6,219.4 C215.07,219.7 215.55,221.1 216.1,224 C216.65,226.9 217.3,232.53 217.9,236.8 C218.5,241.07 218.93,245.15 219.7,249.6 C220.47,254.05 222.03,261.18 222.5,263.5" fill="none" stroke="#c84646" stroke-width="1.1"/>
<path d="M191.3,263.5 C191.92,262.42 193.93,259.32 195,257 C196.07,254.68 196.93,252.35 197.7,249.6 C198.47,246.85 198.98,243.25 199.6,240.5 C200.22,237.75 200.8,235.55 201.4,233.1 C202,230.65 202.68,227.62 203.2,225.8 C203.72,223.98 204.03,222.65 204.5,222.2 C204.97,221.75 205.52,223.27 206,223.1 C206.48,222.93 206.95,221.2 207.4,221.2 C207.85,221.2 208.27,223.18 208.7,223.1 C209.13,223.02 209.53,220.55 210,220.7 C210.47,220.85 211.02,223.15 211.5,224 C211.98,224.85 212.45,224.28 212.9,225.8 C213.35,227.32 213.67,230.05 214.2,233.1 C214.73,236.15 215.48,240.73 216.1,244.1 C216.72,247.47 217.3,250.07 217.9,253.3 C218.5,256.53 219.4,261.8 219.7,263.5" fill="none" stroke="#3636b0" stroke-width="1.1"/>
</g>
<path d="M186.2,214.2 L237,214.2 L237,263.7 L186.2,263.7" fill="none" stroke="#383838" stroke-width="1.1"/>
<line x1="186.2" y1="214.2" x2="186.2" y2="263.7" stroke="#9a9a9a" stroke-width="1.1" />
<line x1="186.2" y1="215.2" x2="186.2" y2="263.7" stroke="#2a2a2a" stroke-width="1.1" stroke-dasharray="2.1,1.6"/>
<clipPath id="clip14"><rect x="239.5" y="214.2" width="50.9" height="49.5"/></clipPath>
<g clip-path="url(#clip14)">
<path d="M244.3,263.5 C244.77,261.8 246.18,256.53 247.1,253.3 C248.02,250.07 248.98,247.47 249.8,244.1 C250.62,240.73 251.38,235.68 252,233.1 C252.62,230.52 253.03,227.98 253.5,228.6 C253.97,229.22 254.4,233.3 254.8,236.8 C255.2,240.3 255.52,245.15 255.9,249.6 C256.28,254.05 256.9,261.18 257.1,263.5 Z" fill="#e3e3e3" stroke="#cdcdcd" stroke-width="0.4"/>
<path d="M259,263.5 C259.92,261.8 263,257.05 264.5,253.3 C266,249.55 267,244.88 268,241 C269,237.12 269.78,232.67 270.5,230 C271.22,227.33 271.78,226.15 272.3,225 C272.82,223.85 273.07,221.13 273.6,223.1 C274.13,225.07 274.88,232.07 275.5,236.8 C276.12,241.53 276.55,247.05 277.3,251.5 C278.05,255.95 279.55,261.5 280,263.5" fill="none" stroke="#6a6a6a" stroke-width="0.9" stroke-dasharray="1.5,1.1"/>
<path d="M257.1,263.5 C257.72,262.1 259.57,258.33 260.8,255.1 C262.03,251.87 263.52,247.77 264.5,244.1 C265.48,240.43 266.1,236.15 266.7,233.1 C267.3,230.05 267.62,227.62 268.1,225.8 C268.58,223.98 269.13,221.88 269.6,222.2 C270.07,222.52 270.47,224.65 270.9,227.7 C271.33,230.75 271.75,236.23 272.2,240.5 C272.65,244.77 273.05,249.47 273.6,253.3 C274.15,257.13 275.18,261.8 275.5,263.5" fill="none" stroke="#c84646" stroke-width="1.1"/>
<path d="M260.8,263.5 C261.42,262.42 263.43,259.92 264.5,257 C265.57,254.08 266.43,249.67 267.2,246 C267.97,242.33 268.58,238.67 269.1,235 C269.62,231.33 269.92,226.3 270.3,224 C270.68,221.7 271,221.2 271.4,221.2 C271.8,221.2 272.27,221.4 272.7,224 C273.13,226.6 273.48,232.22 274,236.8 C274.52,241.38 275.1,247.05 275.8,251.5 C276.5,255.95 277.8,261.5 278.2,263.5" fill="none" stroke="#3636b0" stroke-width="1.1"/>
</g>
<rect x="239.5" y="214.2" width="50.9" height="49.5" fill="none" stroke="#383838" stroke-width="1.1" />
<line x1="292.9" y1="167.5" x2="302.7" y2="167.5" stroke="#444" stroke-width="0.9" stroke-dasharray="2,1.6"/>
<text x="304.8" y="170.1" font-size="6.5" text-anchor="start" fill="#2a2a2a" font-weight="normal"  stroke="#2a2a2a" stroke-width="0.12">No cytokines</text>
<line x1="292.9" y1="174.4" x2="302.7" y2="174.4" stroke="#4a4ac0" stroke-width="0.9" />
<text x="304.8" y="177.5" font-size="6.5" text-anchor="start" fill="#2a2a2a" font-weight="normal"  stroke="#2a2a2a" stroke-width="0.12">GM-CSF/IL-4 only</text>
<line x1="292.9" y1="181.8" x2="302.7" y2="181.8" stroke="#d06666" stroke-width="1.6" />
<text x="304.6" y="185" font-size="6.5" text-anchor="start" fill="#2a2a2a" font-weight="normal"  stroke="#2a2a2a" stroke-width="0.12">+TNF-&#945;/PGE<tspan font-size="4.3" dy="1.3">2</tspan><tspan dy="-1.3">/IL-1&#946;</tspan></text>
<rect x="292.9" y="187" width="9.8" height="3.5" fill="#e3e3e3" stroke="#777" stroke-width="0.6" />
<text x="304.8" y="191.9" font-size="6.5" text-anchor="start" fill="#2a2a2a" font-weight="normal"  stroke="#2a2a2a" stroke-width="0.12">Isotype control</text>
<text x="367.5" y="160.5" font-size="12" text-anchor="start" fill="#111" font-weight="bold" >E</text>
<line x1="415.8" y1="161" x2="415.8" y2="272.2" stroke="#444" stroke-width="0.8" />
<line x1="415.8" y1="272.2" x2="506.3" y2="272.2" stroke="#444" stroke-width="0.8" />
<line x1="412.6" y1="162.2" x2="415.8" y2="162.2" stroke="#444" stroke-width="0.7" />
<text x="411.6" y="164.7" font-size="7.3" text-anchor="end" fill="#222" font-weight="normal" letter-spacing="0.35" stroke="#222" stroke-width="0.12">400</text>
<line x1="412.6" y1="189.7" x2="415.8" y2="189.7" stroke="#444" stroke-width="0.7" />
<text x="411.6" y="192.2" font-size="7.3" text-anchor="end" fill="#222" font-weight="normal" letter-spacing="0.35" stroke="#222" stroke-width="0.12">300</text>
<line x1="412.6" y1="217.2" x2="415.8" y2="217.2" stroke="#444" stroke-width="0.7" />
<text x="411.6" y="219.7" font-size="7.3" text-anchor="end" fill="#222" font-weight="normal" letter-spacing="0.35" stroke="#222" stroke-width="0.12">200</text>
<line x1="412.6" y1="244.7" x2="415.8" y2="244.7" stroke="#444" stroke-width="0.7" />
<text x="411.6" y="247.2" font-size="7.3" text-anchor="end" fill="#222" font-weight="normal" letter-spacing="0.35" stroke="#222" stroke-width="0.12">100</text>
<line x1="412.6" y1="272.2" x2="415.8" y2="272.2" stroke="#444" stroke-width="0.7" />
<text x="411.6" y="274.7" font-size="7.3" text-anchor="end" fill="#222" font-weight="normal" letter-spacing="0.35" stroke="#222" stroke-width="0.12">0</text>
<line x1="438" y1="272.2" x2="438" y2="274.2" stroke="#444" stroke-width="0.7" />
<line x1="482.3" y1="272.2" x2="482.3" y2="274.2" stroke="#444" stroke-width="0.7" />
<defs><pattern id="hatch" patternUnits="userSpaceOnUse" width="1.8" height="1.8" patternTransform="rotate(45)"><rect width="1.8" height="1.8" fill="#c4c4c4"/><rect width="0.9" height="1.8" fill="#3c3c3c"/></pattern></defs>
<rect x="424" y="227.4" width="11.3" height="44.8" fill="#fff" stroke="#2a2a2a" stroke-width="1.0" />
<line x1="429.65" y1="227.4" x2="429.65" y2="216" stroke="#333" stroke-width="0.7" />
<line x1="427.15" y1="216" x2="432.15" y2="216" stroke="#333" stroke-width="0.7" />
<rect x="440.4" y="186.3" width="11.4" height="85.9" fill="url(#hatch)" stroke="#2a2a2a" stroke-width="1.0" />
<line x1="446.1" y1="186.3" x2="446.1" y2="173.6" stroke="#333" stroke-width="0.7" />
<line x1="443.6" y1="173.6" x2="448.6" y2="173.6" stroke="#333" stroke-width="0.7" />
<rect x="468.2" y="231.4" width="11.6" height="40.8" fill="#fff" stroke="#2a2a2a" stroke-width="1.0" />
<line x1="474" y1="231.4" x2="474" y2="228.1" stroke="#333" stroke-width="0.7" />
<line x1="471.5" y1="228.1" x2="476.5" y2="228.1" stroke="#333" stroke-width="0.7" />
<rect x="485.5" y="208.2" width="10.9" height="64" fill="url(#hatch)" stroke="#2a2a2a" stroke-width="1.0" />
<line x1="490.95" y1="208.2" x2="490.95" y2="200.6" stroke="#333" stroke-width="0.7" />
<line x1="488.45" y1="200.6" x2="493.45" y2="200.6" stroke="#333" stroke-width="0.7" />
<text x="438.1" y="282.2" font-size="7.2" text-anchor="middle" fill="#2a2a2a" font-weight="normal" letter-spacing="0.3" stroke="#2a2a2a" stroke-width="0.12">acDC</text>
<text x="483.3" y="282.2" font-size="7.2" text-anchor="middle" fill="#2a2a2a" font-weight="normal" letter-spacing="0.3" stroke="#2a2a2a" stroke-width="0.12">moDC</text>
<rect x="419" y="152" width="12.2" height="4" fill="#fff" stroke="#333" stroke-width="0.7" />
<text x="437.5" y="157" font-size="7.0" text-anchor="start" fill="#2a2a2a" font-weight="normal"  stroke="#2a2a2a" stroke-width="0.12">GM-CSF/IL-4 only</text>
<rect x="419" y="162.6" width="12.2" height="4.6" fill="url(#hatch)" stroke="#333" stroke-width="0.7" />
<text x="438.4" y="167" font-size="7.0" text-anchor="start" fill="#2a2a2a" font-weight="normal"  stroke="#2a2a2a" stroke-width="0.12">+TNF-&#945;/PGE<tspan font-size="4.6" dy="1.5">2</tspan><tspan dy="-1.5">/IL-1&#946;</tspan></text>
<text transform="translate(381.4,217.0) rotate(-90)" font-size="7.4" text-anchor="middle" fill="#2a2a2a">PPD-specific</text>
<text transform="translate(391.8,217.0) rotate(-90)" font-size="7.4" text-anchor="middle" fill="#2a2a2a">IFN-&#947; SFC/10<tspan font-size="4.9" dy="-2.8">6</tspan><tspan dy="2.8"> PBMCs</tspan></text>
</svg>
</body></html>
